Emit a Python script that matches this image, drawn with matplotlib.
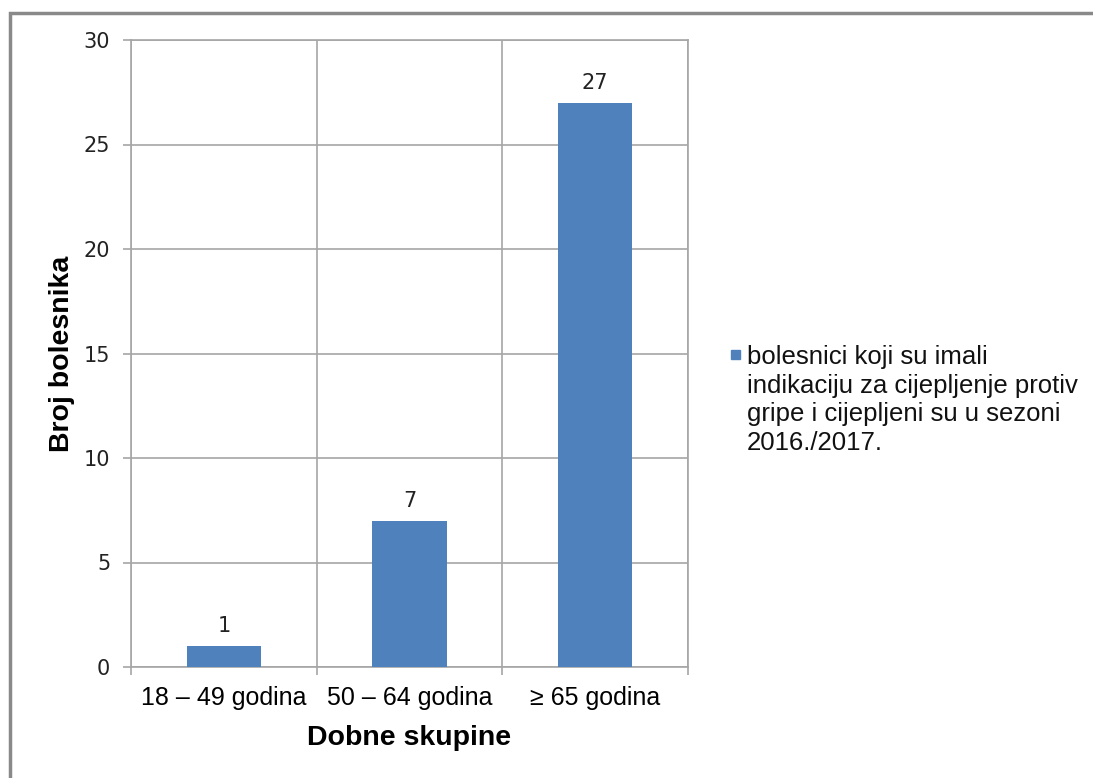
import matplotlib.pyplot as plt
from matplotlib.patches import Rectangle

# podaci
skupine = ["18 \u2013 49 godina", "50 \u2013 64 godina", "\u2265 65 godina"]
broj = [1, 7, 27]
legenda = "bolesnici koji su imali\nindikaciju za cijepljenje protiv\ngripe i cijepljeni su u sezoni\n2016./2017."

boja = "#4f81bd"
siva = "#a6a6a6"

fig = plt.figure(figsize=(10.93, 7.78), dpi=100)
ax = fig.add_axes([131/1093, 1-667/778, (688-131)/1093, (667-40)/778])

x = list(range(len(skupine)))
bars = ax.bar(x, broj, width=0.4, color=boja, zorder=3)
for b, v in zip(bars, broj):
    ax.annotate(str(v), (b.get_x() + b.get_width()/2, v), xytext=(0, 7),
                textcoords="offset points", ha="center", va="bottom",
                fontsize=15, family="DejaVu Sans", color="#222222")

ax.set_xlim(-0.5, 2.5)
ax.set_ylim(0, 30)
ax.set_yticks(range(0, 31, 5))
ax.set_xticks(x)
ax.set_xticklabels(skupine, family="Liberation Sans", fontsize=18)
ax.set_xticks([-0.5, 0.5, 1.5, 2.5], minor=True)
ax.tick_params(axis="x", which="major", length=0, pad=14)
ax.tick_params(axis="x", which="minor", length=6, color=siva, width=1.2)
ax.tick_params(axis="y", length=6, color=siva, width=1.2, pad=9, labelsize=15)
for t in ax.get_yticklabels():
    t.set_family("DejaVu Sans")
    t.set_color("#222222")

ax.grid(axis="y", color=siva, linewidth=1.2, zorder=0)
ax.grid(axis="x", which="minor", color=siva, linewidth=1.2, zorder=0)
for s in ax.spines.values():
    s.set_color(siva)
    s.set_linewidth(1.2)

ax.set_xlabel("Dobne skupine", family="Liberation Sans", fontsize=20.5,
              fontweight="bold", va="center")
ax.set_ylabel("Broj bolesnika", family="Liberation Sans", fontsize=20.5,
              fontweight="bold", va="center")
ax.xaxis.set_label_coords(0.5, (667-738)/627)
ax.yaxis.set_label_coords((62-131)/557, 0.5)

# legenda
fig.patches.append(Rectangle((731/1093, 1-359/778), 9/1093, 9/778,
                             transform=fig.transFigure, color=boja))
fig.text(747/1093, 1-345/778, legenda, family="Liberation Sans", fontsize=18.5,
         va="top", ha="left", linespacing=1.24, color="#111111")

# okvir
fig.patches.append(Rectangle((10/1093, -0.1), 1.2, 1-13/778+0.1,
                             transform=fig.transFigure, fill=False,
                             edgecolor="#898989", linewidth=2.5))

fig.savefig("out.png", dpi=100)
